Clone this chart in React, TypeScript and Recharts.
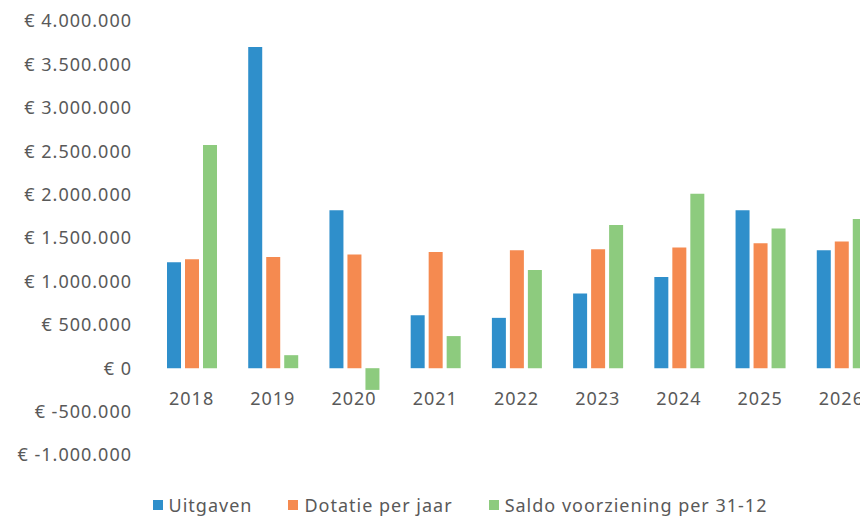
import { BarChart, Bar, XAxis, YAxis, Legend } from 'recharts';

const YEARS = ['2018', '2019', '2020', '2021', '2022', '2023', '2024', '2025', '2026'];
const UITGAVEN = [1220000, 3700000, 1820000, 610000, 580000, 860000, 1050000, 1820000, 1360000];
const DOTATIE = [1255000, 1280000, 1310000, 1340000, 1360000, 1370000, 1390000, 1440000, 1460000];
const SALDO = [2570000, 150000, -250000, 370000, 1130000, 1650000, 2010000, 1610000, 1720000];
const Y_TICKS = [-1000000, -500000, 0, 500000, 1000000, 1500000, 2000000, 2500000, 3000000, 3500000, 4000000];

const Y_MIN = -1000000;
const Y_MAX = 4000000;
const PLOT_H = 434;

const SERIES = [
  { key: 'uitgaven', name: 'Uitgaven', color: '#2F8FCB' },
  { key: 'dotatie', name: 'Dotatie per jaar', color: '#F58A50' },
  { key: 'saldo', name: 'Saldo voorziening per 31-12', color: '#8DCB7E' },
];

const data = YEARS.map((year, i) => ({
  year,
  uitgaven: UITGAVEN[i],
  dotatie: DOTATIE[i],
  saldo: SALDO[i],
}));

const FONT = '"Noto Sans", sans-serif';
const TEXT = '#595959';

const euro = (v: number) => {
  const s = Math.abs(v).toString().replace(/\B(?=(\d{3})+(?!\d))/g, '.');
  return `€ ${v < 0 ? '-' : ''}${s}`;
};

// x labels sit next to the zero line, like Excel does
const zeroShift = (PLOT_H * (0 - Y_MIN)) / (Y_MAX - Y_MIN);

const YearTick = (props: any) => {
  const { x, y, payload } = props;
  return (
    <text x={x} y={y - zeroShift} dy="0.71em" textAnchor="middle" fill={TEXT}
      fontSize={18} fontFamily={FONT} letterSpacing={1}>
      {payload.value}
    </text>
  );
};

const LegendContent = () => (
  <div style={{ display: 'flex', justifyContent: 'center', gap: 36, paddingLeft: 30,
    fontFamily: FONT, fontSize: 18, color: TEXT, letterSpacing: 1 }}>
    {SERIES.map((s) => (
      <div key={s.key} style={{ display: 'flex', alignItems: 'center' }}>
        <span style={{ width: 10, height: 10, background: s.color, marginRight: 6 }} />
        <span>{s.name}</span>
      </div>
    ))}
  </div>
);

export default function App() {
  return (
    <div style={{ width: 860, height: 509, overflow: 'hidden', background: '#fff' }}>
      <BarChart width={874} height={509} data={data}
        margin={{ top: 13, right: 0, left: 0, bottom: 0 }}
        barSize={14} barGap={4}>
        <XAxis dataKey="year" axisLine={false} tickLine={false} height={38}
          tickSize={0} tickMargin={24} tick={<YearTick />} interval={0} />
        <YAxis domain={[Y_MIN, Y_MAX]} ticks={Y_TICKS} width={143} axisLine={false}
          tickLine={false} tickSize={6} tickMargin={13} tickFormatter={euro}
          tick={{ fill: TEXT, fontSize: 18, fontFamily: FONT, letterSpacing: 1 }} />
        <Legend verticalAlign="bottom" height={24} content={<LegendContent />} />
        {SERIES.map((s) => (
          <Bar key={s.key} dataKey={s.key} name={s.name} fill={s.color} isAnimationActive={false} />
        ))}
      </BarChart>
    </div>
  );
}
